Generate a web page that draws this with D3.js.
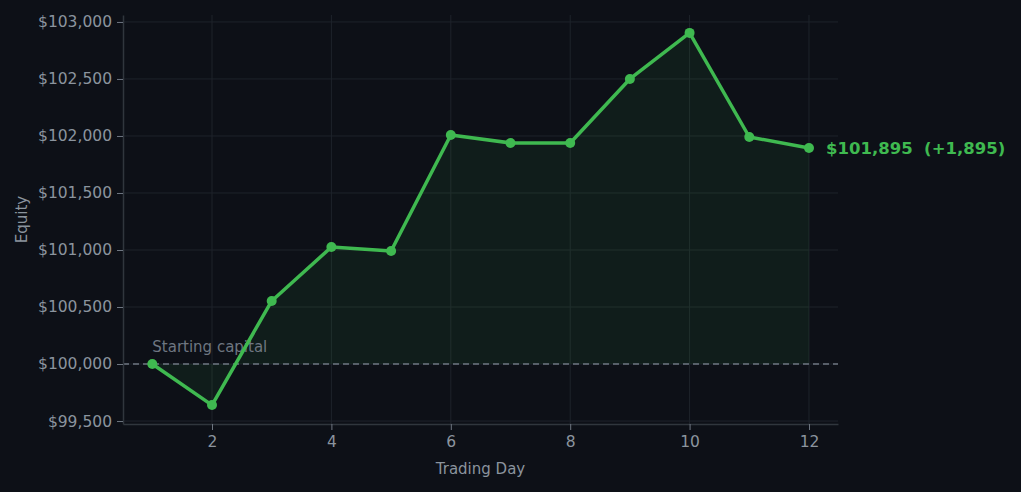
<!DOCTYPE html>
<html><head><meta charset="utf-8">
<script src="https://cdn.jsdelivr.net/npm/d3@7"></script>
<style>body{margin:0;background:#0d1017;}svg{display:block;font-family:"DejaVu Sans",sans-serif;}</style>
</head><body><svg id="c" width="1021" height="492"></svg>
<script>
const days = [1,2,3,4,5,6,7,8,9,10,11,12];
const equity = [100000,99640,100553,101026,100991,102009,101939,101939,102500,102904,101991,101895];
const yTicks = [99500,100000,100500,101000,101500,102000,102500,103000];
const xTicks = [2,4,6,8,10,12];
const startCapital = 100000;

const svg = d3.select("#c");
svg.append("rect").attr("width",1021).attr("height",492).attr("fill","#0d1017");
const L=123,R=838,T=15,B=424;
const x = d3.scaleLinear().domain([0.509,12.486]).range([L,R]);
const y = d3.scaleLinear().domain([99474,103061]).range([B,T]);
const g = svg.append("g");
g.selectAll(".gy").data(yTicks).join("line").attr("x1",L).attr("x2",R).attr("y1",d=>y(d)).attr("y2",d=>y(d)).attr("stroke","#1e232b").attr("stroke-width",1);
g.selectAll(".gx").data(xTicks).join("line").attr("y1",T).attr("y2",B).attr("x1",d=>x(d)).attr("x2",d=>x(d)).attr("stroke","#1e232b").attr("stroke-width",1);
const data = days.map((d,i)=>({d,v:equity[i]}));
g.append("path").datum(data).attr("d",d3.area().x(p=>x(p.d)).y0(y(startCapital)).y1(p=>y(p.v))).attr("fill","#3fb950").attr("fill-opacity",0.08);
g.append("line").attr("x1",L).attr("x2",R).attr("y1",y(startCapital)).attr("y2",y(startCapital)).attr("stroke","#6e7681").attr("stroke-width",1.5).attr("stroke-dasharray","6,4");
g.append("text").attr("x",x(1)).attr("y",y(startCapital)-12).attr("fill","#6e7681").attr("font-size",15).text("Starting capital");
g.append("path").datum(data).attr("d",d3.line().x(p=>x(p.d)).y(p=>y(p.v))).attr("fill","none").attr("stroke","#3fb950").attr("stroke-width",3.5).attr("stroke-linejoin","round");
g.selectAll("circle").data(data).join("circle").attr("cx",p=>x(p.d)).attr("cy",p=>y(p.v)).attr("r",5).attr("fill","#3fb950");
const last = data[data.length-1];
g.append("text").attr("x",x(last.d)+17).attr("y",y(last.v)+6).attr("fill","#3fb950").attr("font-size",16.5).attr("font-weight","bold").attr("xml:space","preserve")
 .text("$"+d3.format(",")(last.v)+"  (+"+d3.format(",")(last.v-startCapital)+")");
const ax = svg.append("g").attr("transform",`translate(0,${B})`).call(d3.axisBottom(x).tickValues(xTicks).tickSize(6).tickPadding(6).tickSizeOuter(0));
const ay = svg.append("g").attr("transform",`translate(${L},0)`).call(d3.axisLeft(y).tickValues(yTicks).tickFormat(d=>"$"+d3.format(",")(d)).tickSize(6).tickPadding(5).tickSizeOuter(0));
[ax,ay].forEach(a=>{a.select(".domain").attr("stroke","#30363d").attr("stroke-width",1.5);a.selectAll(".tick line").attr("stroke","#6e7681");a.selectAll("text").attr("fill","#8b949e").attr("font-size",15.5).attr("font-family","DejaVu Sans");});
svg.append("text").attr("x",(L+R)/2).attr("y",474).attr("text-anchor","middle").attr("fill","#8b949e").attr("font-size",15).text("Trading Day");
svg.append("text").attr("transform",`translate(27,${(T+B)/2}) rotate(-90)`).attr("text-anchor","middle").attr("fill","#8b949e").attr("font-size",15).text("Equity");
</script></body></html>
